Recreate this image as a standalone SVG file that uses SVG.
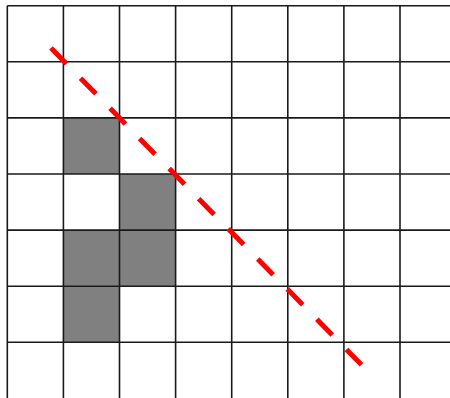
<svg xmlns="http://www.w3.org/2000/svg" width="450" height="398" viewBox="0 0 450 398">
<style>
.cell{fill:#808080}
.grid line{stroke:#1a1a1a;stroke-width:1.6}
.diag{stroke:#ff0000;stroke-width:5;stroke-dasharray:22 20.2;fill:none}
</style>
<rect width="450" height="398" fill="#ffffff"/>
<g id="cells">
<rect class="cell" x="63.4" y="117.9" width="56.1" height="56.1"/>
<rect class="cell" x="119.5" y="174" width="56.1" height="56.1"/>
<rect class="cell" x="63.4" y="230.1" width="56.1" height="56.1"/>
<rect class="cell" x="119.5" y="230.1" width="56.1" height="56.1"/>
<rect class="cell" x="63.4" y="286.2" width="56.1" height="56.1"/>
</g>
<g id="grid" class="grid">
<line x1="7.3" y1="5.7" x2="7.3" y2="398"/>
<line x1="63.4" y1="5.7" x2="63.4" y2="398"/>
<line x1="119.5" y1="5.7" x2="119.5" y2="398"/>
<line x1="175.6" y1="5.7" x2="175.6" y2="398"/>
<line x1="231.7" y1="5.7" x2="231.7" y2="398"/>
<line x1="287.8" y1="5.7" x2="287.8" y2="398"/>
<line x1="343.9" y1="5.7" x2="343.9" y2="398"/>
<line x1="400" y1="5.7" x2="400" y2="398"/>
<line x1="7.3" y1="5.7" x2="450" y2="5.7"/>
<line x1="7.3" y1="61.8" x2="450" y2="61.8"/>
<line x1="7.3" y1="117.9" x2="450" y2="117.9"/>
<line x1="7.3" y1="174" x2="450" y2="174"/>
<line x1="7.3" y1="230.1" x2="450" y2="230.1"/>
<line x1="7.3" y1="286.2" x2="450" y2="286.2"/>
<line x1="7.3" y1="342.3" x2="450" y2="342.3"/>
</g>
<g id="connectors">
<line class="diag" x1="51" y1="48" x2="361.5" y2="364.8"/>
</g>
</svg>
